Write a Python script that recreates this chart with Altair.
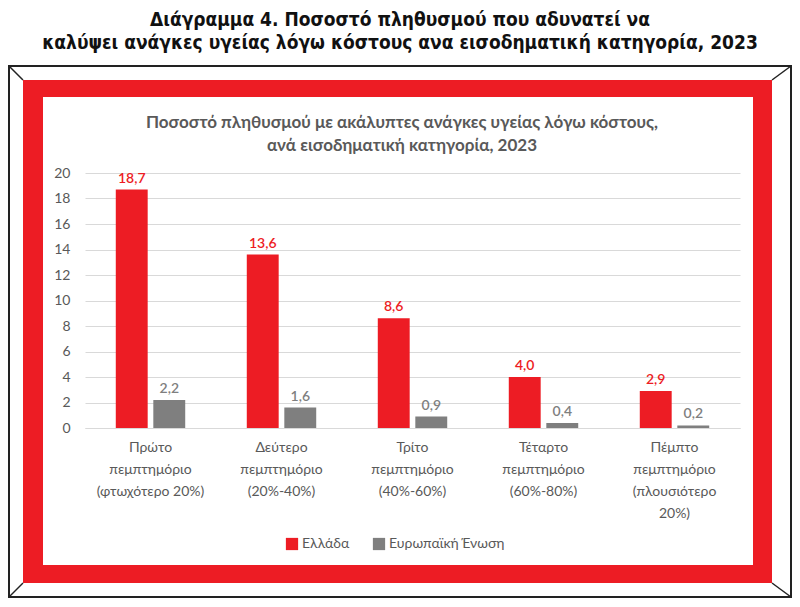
import altair as alt
import pandas as pd

categories = [
    "Πρώτο|πεμπτημόριο|(φτωχότερο 20%)",
    "Δεύτερο|πεμπτημόριο|(20%-40%)",
    "Τρίτο|πεμπτημόριο|(40%-60%)",
    "Τέταρτο|πεμπτημόριο|(60%-80%)",
    "Πέμπτο|πεμπτημόριο|(πλουσιότερο|20%)",
]
series = ["Ελλάδα", "Ευρωπαϊκή Ένωση"]
greece = [18.7, 13.6, 8.6, 4.0, 2.9]
eu = [2.2, 1.6, 0.9, 0.4, 0.2]
y_ticks = list(range(0, 21, 2))

outer_title = [
    "Διάγραμμα 4. Ποσοστό πληθυσμού που αδυνατεί να",
    "καλύψει ανάγκες υγείας λόγω κόστους ανα εισοδηματική κατηγορία, 2023",
]
inner_title = [
    "Ποσοστό πληθυσμού με ακάλυπτες ανάγκες υγείας λόγω κόστους,",
    "ανά εισοδηματική κατηγορία, 2023",
]

rows = []
for c, g, e in zip(categories, greece, eu):
    rows.append({"cat": c, "series": series[0], "value": g})
    rows.append({"cat": c, "series": series[1], "value": e})
df = pd.DataFrame(rows)

RED = "#ED1C24"
GRAY = "#7F7F7F"
TXT = "#595959"
FONT = "Lato"

W, H = 655, 255

color = alt.Color(
    "series:N",
    scale=alt.Scale(domain=series, range=[RED, GRAY]),
    legend=alt.Legend(
        title=None,
        orient="none",
        legendX=200,
        legendY=364,
        direction="horizontal",
        symbolType="square",
        symbolSize=150,
        symbolStrokeWidth=0,
        labelFontSize=14,
        labelFont=FONT,
        labelColor=TXT,
        labelOffset=3,
        columnPadding=22,
    ),
)

x = alt.X(
    "cat:N",
    sort=categories,
    scale=alt.Scale(paddingInner=0.47, paddingOuter=0.235),
    axis=alt.Axis(
        title=None,
        labelAngle=0,
        labelExpr="split(datum.label, '|')",
        labelFont=FONT,
        labelFontSize=14,
        labelColor=TXT,
        labelLineHeight=22,
        labelPadding=12,
        ticks=False,
        domainColor="#D9D9D9",
        labelBaseline="top",
    ),
)
xoff = alt.XOffset("series:N", sort=series, scale=alt.Scale(paddingInner=0.15))
y = alt.Y(
    "value:Q",
    scale=alt.Scale(domain=[0, 20]),
    axis=alt.Axis(
        title=None,
        values=y_ticks,
        labelFont=FONT,
        labelFontSize=14,
        labelColor=TXT,
        labelPadding=15,
        ticks=False,
        domain=False,
        gridColor="#D9D9D9",
        gridWidth=1,
    ),
)

bars = alt.Chart(df).mark_bar().encode(x=x, xOffset=xoff, y=y, color=color)

labels = (
    alt.Chart(df)
    .transform_calculate(lab="replace(format(datum.value, '.1f'), '.', ',')")
    .mark_text(dy=-11, fontSize=14, font=FONT, fontWeight=600)
    .encode(
        x=x,
        xOffset=xoff,
        y=y,
        text="lab:N",
        color=alt.Color(
            "series:N",
            scale=alt.Scale(domain=series, range=["#C0504D", GRAY]),
            legend=None,
        ),
    )
)

one = alt.Data(values=[{}])


def box(x1, x2, y1, y2, **kw):
    return alt.Chart(one).mark_rect(**kw).encode(
        x=alt.value(x1), x2=alt.value(x2), y=alt.value(y1), y2=alt.value(y2)
    )


def line(x1, y1, x2, y2):
    return alt.Chart(one).mark_rule(color="#222222", strokeWidth=1.5).encode(
        x=alt.value(x1), x2=alt.value(x2), y=alt.value(y1), y2=alt.value(y2)
    )


def text(t, xx, yy, **kw):
    return alt.Chart(one).mark_text(baseline="middle", align="center", **kw).encode(
        x=alt.value(xx), y=alt.value(yy), text=alt.value(t)
    )


# decorative frame (pixel offsets relative to the plot area)
BL, BR, BT, BB = -76, 706, -107, 424
RL, RR, RT, RB = -62, 687, -93, 410
IL, IR, IT, IB = -42, 668, -76, 392

frame = [
    box(BL, BR, BT, BB, filled=False, stroke="#222222", strokeWidth=2),
    box(RL, RR, RT, IT, color=RED),
    box(RL, RR, IB, RB, color=RED),
    box(RL, IL, RT, RB, color=RED),
    box(IR, RR, RT, RB, color=RED),
    line(BL, BT, RL, RT),
    line(BR, BT, RR, RT),
    line(BL, BB, RL, RB),
    line(BR, BB, RR, RB),
]

titles = [
    text(outer_title[0], 315, -153, font="DejaVu Sans Condensed", fontWeight="bold", fontSize=19, color="#111111"),
    text(outer_title[1], 315, -130, font="DejaVu Sans Condensed", fontWeight="bold", fontSize=19, color="#111111"),
    text(inner_title[0], 317, -50, font=FONT, fontWeight="bold", fontSize=17, color=TXT),
    text(inner_title[1], 317, -27, font=FONT, fontWeight="bold", fontSize=17, color=TXT),
]

chart = (
    alt.layer(*frame, *titles, bars, labels)
    .properties(
        width=W,
        height=H,
        padding={"left": 77, "top": 165, "right": 52, "bottom": 171},
        autosize=alt.AutoSizeParams(type="none"),
        background="white",
    )
    .configure_view(stroke=None)
)

chart.save("out.html", embed_options={"renderer": "svg", "actions": False})
